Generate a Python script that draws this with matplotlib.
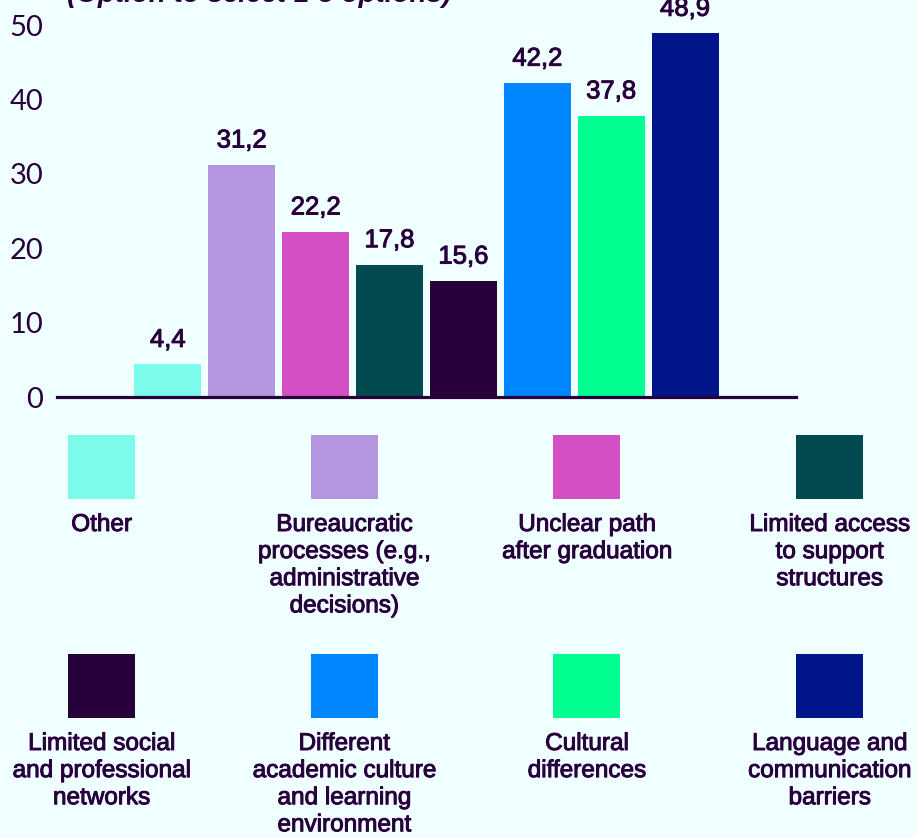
import matplotlib.pyplot as plt
from matplotlib.patches import Rectangle
import matplotlib.patheffects as pe

categories = ['Other', 'Bureaucratic\nprocesses (e.g.,\nadministrative\ndecisions)',
              'Unclear path\nafter graduation', 'Limited access\nto support\nstructures',
              'Limited social\nand professional\nnetworks',
              'Different\nacademic culture\nand learning\nenvironment',
              'Cultural\ndifferences', 'Language and\ncommunication\nbarriers']
values = [4.4, 31.2, 22.2, 17.8, 15.6, 42.2, 37.8, 48.9]
value_labels = ['4,4', '31,2', '22,2', '17,8', '15,6', '42,2', '37,8', '48,9']
colors = ['#7CFBEB', '#B396DF', '#D44FC4', '#004A50',
          '#28003C', '#0087FF', '#00FF90', '#00158A']
yticks = [0, 10, 20, 30, 40, 50]
title = '(Option to select 1-3 options)'

bg = '#F0FFFF'
ink = '#28003C'
W, H = 917, 838
# slightly heavier text, like a medium weight
thick = [pe.withStroke(linewidth=0.7, foreground=ink)]

fig = plt.figure(figsize=(W / 100, H / 100), dpi=100, facecolor=bg)

# legend area drawn in pixel coordinates
leg = fig.add_axes([0, 0, 1, 1])
leg.set_xlim(0, W)
leg.set_ylim(H, 0)
leg.axis('off')
col_w = 242.67
for i, (lab, c) in enumerate(zip(categories, colors)):
    row, col = divmod(i, 4)
    cx = 101.5 + col_w * col
    top = 435 if row == 0 else 654
    leg.add_patch(Rectangle((cx - 33.5, top), 67, 64, color=c, lw=0))
    leg.text(cx, top + 79, lab, ha='center', va='top', fontsize=17.5,
             family='Liberation Sans', color=ink, linespacing=1.3,
             path_effects=thick)

# main bar chart
ax = fig.add_axes([57 / W, 1 - 397 / H, 739 / W, 372 / H])
ax.set_facecolor('none')
x = list(range(1, len(values) + 1))
ax.bar(x, values, width=0.905, color=colors, zorder=2)
for xi, v, lab in zip(x, values, value_labels):
    ax.annotate(lab, (xi, v), xytext=(0, 12.5), textcoords='offset points',
                ha='center', va='baseline', fontsize=18.5,
                family='Liberation Sans', color=ink, annotation_clip=False,
                path_effects=thick)

ax.set_xlim(-0.5, 9.5)
ax.set_ylim(0, 50)
ax.set_yticks(yticks)
ax.set_xticks([])
ax.tick_params(axis='y', length=0, pad=10, labelsize=21, labelcolor=ink)
for t in ax.get_yticklabels():
    t.set_family('Lato')
for s in ['top', 'right', 'left']:
    ax.spines[s].set_visible(False)
ax.spines['bottom'].set_color(ink)
ax.spines['bottom'].set_linewidth(2.3)
ax.spines['bottom'].set_zorder(3)

fig.text(67 / W, 1 - 2 / H, title, ha='left', va='baseline', fontsize=20,
         family='Liberation Sans', style='italic', weight='bold', color=ink)

fig.savefig('out.png', dpi=100, facecolor=bg)
